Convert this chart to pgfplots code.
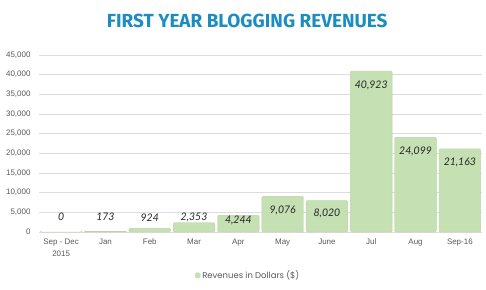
\documentclass[border=0pt]{standalone}
\usepackage{pgfplots}
\pgfplotsset{compat=1.18}
\usepackage{pgfplotstable}
\usepackage{fontspec}
\setmainfont{Liberation Sans}
\newfontfamily\titlefont{Fira Sans}
\newfontfamily\lblfont{Lato}
\newfontfamily\legfont{Poppins}
\definecolor{barg}{HTML}{C5E0B3}
\definecolor{titleblue}{HTML}{1C8DC0}
\definecolor{gridg}{HTML}{DCDCDC}
\definecolor{tickg}{HTML}{595959}
\pgfplotstableread{
x y
0 0
1 173
2 924
3 2353
4 4244
5 9076
6 8020
7 40923
8 24099
9 21163
}\revdata
\pgfplotstableread{
x ly lab
0 3800 0
1 3800 173
2 3700 924
3 3600 2,353
4 3000 4,244
5 5600 9,076
6 4700 8,020
7 37300 40,923
8 20500 24,099
9 17600 21,163
}\labdata
\begin{document}
\begin{tikzpicture}
\begin{axis}[
  at={(0,0)}, anchor=south west,
  scale only axis, width=443bp, height=177bp,
  xmin=-0.5, xmax=9.5, ymin=0, ymax=45000,
  axis line style={draw=none},
  ytick={0,5000,...,45000},
  ymajorgrids, grid style={gridg, line width=0.6pt},
  major tick length=0pt,
  xtick={0,...,9},
  xticklabels={{Sep - Dec\\2015},Jan,Feb,Mar,Apr,May,June,Jul,Aug,Sep-16},
  xticklabel style={align=center, font=\fontsize{8}{12.5}\selectfont, text=tickg, yshift=-3bp},
  yticklabel style={font=\fontsize{8}{9}\selectfont, text=tickg, xshift=-5bp},
  scaled y ticks=false,
  /pgf/number format/assume math mode=true,
  yticklabel={\pgfmathprintnumber[1000 sep={,}]{\tick}},
  legend style={draw=none, at={(0.472,-0.245)}, anchor=center,
    font=\legfont\fontsize{8.5}{9}\selectfont, text=tickg,
    legend cell align=left},
  legend image code/.code={\fill[barg] (0bp,-2.5bp) rectangle (5bp,2.5bp);},
  clip=false,
]
\draw[gridg, line width=0.6pt] (axis cs:-0.5,0) -- (axis cs:9.5,0);
\addplot[ybar, bar width=0.94, fill=barg, draw=barg!90!black!60!barg, rounded corners=1.2pt, bar shift=0]
  table[x=x,y=y]{\revdata};
\addlegendentry{Revenues in Dollars (\$)}
\addplot[only marks, mark=none, nodes near coords, point meta=explicit symbolic,
  nodes near coords style={font=\lblfont\itshape\fontsize{10.5}{11}\selectfont, text=black!85, anchor=center},
  forget plot]
  table[x=x,y=ly,meta=lab]{\labdata};
\node[font=\titlefont\bfseries\fontsize{19}{20}\selectfont, text=titleblue]
  at (axis description cs:0.47,1.19) {FIRST YEAR BLOGGING REVENUES};
\end{axis}
\path[use as bounding box] (-39bp,-58bp) rectangle (447bp,232bp);
\end{tikzpicture}
\end{document}
